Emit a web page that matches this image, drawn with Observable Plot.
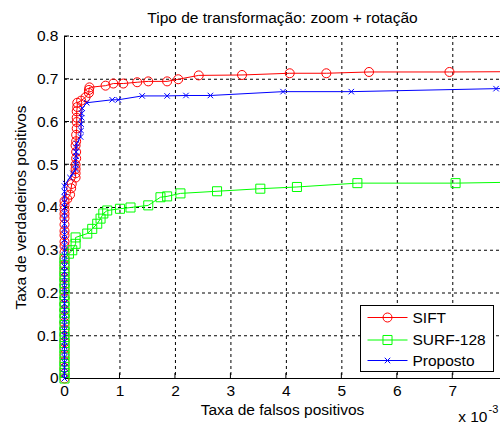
<!DOCTYPE html>
<html><head><meta charset="utf-8">
<script src="https://cdn.jsdelivr.net/npm/d3@7"></script>
<script src="https://cdn.jsdelivr.net/npm/@observablehq/plot@0.6"></script>
<style>body{margin:0;background:#fff}</style>
</head><body><div id="chart"></div>
<script>
const title = "Tipo de transformação: zoom + rotação";
const xLabel = "Taxa de falsos positivos";
const yLabel = "Taxa de verdadeiros positivos";
const xMultiplier = "x 10";
const xExponent = "-3";
const xTicks = [0, 1, 2, 3, 4, 5, 6, 7];
const yTicks = [0, 0.1, 0.2, 0.3, 0.4, 0.5, 0.6, 0.7, 0.8];
const xMax = 7.86;
const seriesNames = ["SIFT", "SURF-128", "Proposto"];
const seriesColors = ["#ff0000", "#00ff00", "#0000ff"];

// SIFT (x in units of 1e-3)
const siftFpr = [0,0,0,0,0,0,0,0,0,0,0,0,0,0,0,0,0,0,0,0,0,0,0,0,0,0,0,0,0,0,0,
  0.05,0.1,0.12,0.13,0.2,0.2,0.2,0.2,0.21,0.21,0.2,0.21,0.21,0.22,0.22,0.22,0.22,0.23,0.23,
  0.3,0.38,0.44,0.44,0.45,0.74,0.88,1.06,1.31,1.51,1.85,2.05,2.42,3.2,4.06,4.72,5.49,6.94,8.5];
const siftTpr = [0,0.012,0.025,0.04,0.055,0.07,0.085,0.1,0.115,0.13,0.145,0.16,0.175,0.19,0.205,0.22,0.235,0.25,0.265,0.28,0.295,0.31,0.32,0.335,0.345,0.36,0.375,0.385,0.395,0.405,0.415,
  0.42,0.43,0.445,0.455,0.47,0.48,0.49,0.5,0.515,0.53,0.545,0.555,0.57,0.585,0.6,0.61,0.625,0.635,0.645,
  0.65,0.658,0.668,0.675,0.681,0.685,0.69,0.69,0.693,0.695,0.695,0.7,0.709,0.71,0.714,0.714,0.717,0.717,0.718];

// SURF-128
const surfFpr = [0,0,0,0,0,0,0,0,0,0,0,0,0,0,0,0,0,0,0,0,0,
  0.08,0.14,0.2,0.2,0.41,0.5,0.59,0.65,0.7,0.77,1.0,1.19,1.51,1.73,1.85,2.09,2.75,3.53,4.19,5.28,7.05,8.5];
const surfTpr = [0,0.013,0.027,0.04,0.055,0.07,0.083,0.097,0.11,0.125,0.14,0.153,0.167,0.18,0.195,0.21,0.223,0.237,0.25,0.265,0.28,
  0.292,0.3,0.315,0.33,0.339,0.35,0.362,0.374,0.386,0.393,0.397,0.4,0.405,0.424,0.426,0.433,0.438,0.444,0.448,0.457,0.457,0.46];

// Proposto
const propFpr = [0,0,0,0,0,0,0,0,0,0,0,0,0,0,0,0,0,0,0,0,0,0,0,0,0,0,0,0,0,0,0,0,0,0,0,0,0,
  0.02,0.1,0.15,0.2,0.2,0.2,0.21,0.21,0.21,0.22,0.29,0.3,0.3,0.31,0.31,0.32,0.4,0.86,0.97,1.4,1.85,2.19,2.63,3.94,5.17,7.78,8.5];
const propTpr = [0,0.012,0.025,0.037,0.05,0.062,0.075,0.087,0.1,0.112,0.125,0.137,0.15,0.162,0.175,0.187,0.2,0.212,0.225,0.237,0.25,0.262,0.275,0.287,0.3,0.312,0.325,0.337,0.35,0.362,0.375,0.387,0.4,0.412,0.425,0.437,0.45,
  0.456,0.47,0.48,0.49,0.5,0.51,0.52,0.53,0.54,0.55,0.565,0.58,0.595,0.61,0.62,0.632,0.645,0.652,0.652,0.661,0.661,0.662,0.662,0.671,0.671,0.678,0.68];

const toRows = (xs, ys) => xs.map((x, i) => ({x, y: ys[i]}));
const sift = toRows(siftFpr, siftTpr);
const surf = toRows(surfFpr, surfTpr);
const prop = toRows(propFpr, propTpr);
const inView = d => d.x <= xMax;

const symbols = ["circle", "square", "times"];
const radii = [4.5, 5.1, 2.6];
const seriesData = [sift, surf, prop];

const FONT = "'Liberation Sans', Arial, sans-serif";

function innerTicks(index, scales, values, dimensions) {
  const sx = typeof scales.x === "function" ? scales.x : scales.scales.x;
  const sy = typeof scales.y === "function" ? scales.y : scales.scales.y;
  const {height, marginBottom, marginLeft} = dimensions;
  const y0 = height - marginBottom;
  const g = d3.create("svg:g").attr("stroke", "black").attr("stroke-width", 1);
  for (const t of xTicks) g.append("line").attr("x1", sx(t)).attr("x2", sx(t)).attr("y1", y0).attr("y2", y0 - 5);
  for (const t of yTicks) g.append("line").attr("x1", marginLeft).attr("x2", marginLeft + 5).attr("y1", sy(t)).attr("y2", sy(t));
  return g.node();
}

function legend(index, scales, values, dimensions) {
  const {width, height, marginRight, marginBottom} = dimensions;
  const bw = 133, bh = 66;
  const x0 = width - marginRight - 6.5 - bw;
  const y0 = height - marginBottom - 6.5 - bh;
  const g = d3.create("svg:g");
  g.append("rect").attr("x", x0).attr("y", y0).attr("width", bw).attr("height", bh)
    .attr("fill", "white").attr("stroke", "black").attr("stroke-width", 1);
  const rowY = [12, 34.5, 55];
  seriesNames.forEach((name, i) => {
    const yy = y0 + rowY[i];
    g.append("line").attr("x1", x0 + 7).attr("x2", x0 + 47).attr("y1", yy).attr("y2", yy)
      .attr("stroke", seriesColors[i]).attr("stroke-width", 1);
    const sym = d3.symbol(i === 0 ? d3.symbolCircle : i === 1 ? d3.symbolSquare : d3.symbolTimes, Math.PI * radii[i] * radii[i]);
    g.append("path").attr("d", sym()).attr("transform", `translate(${x0 + 27},${yy})`)
      .attr("fill", "none").attr("stroke", seriesColors[i]).attr("stroke-width", 1);
    g.append("text").attr("x", x0 + 52).attr("y", yy).attr("dy", "0.35em").attr("text-anchor", "start")
      .attr("font-size", 15.5).attr("font-family", FONT).attr("fill", "black").text(name);
  });
  return g.node();
}

const seriesMarks = seriesData.flatMap((data, i) => [
  Plot.line(data, {x: "x", y: "y", stroke: seriesColors[i], strokeWidth: 1, clip: true}),
  Plot.dot(data.filter(inView), {x: "x", y: "y", symbol: symbols[i], r: radii[i], stroke: seriesColors[i], fill: "none", strokeWidth: 1})
]);

const chart = Plot.plot({
  width: 502,
  height: 426,
  marginLeft: 64,
  marginRight: 2,
  marginTop: 36,
  marginBottom: 48,
  style: {fontFamily: FONT, fontSize: "15.5px", background: "white", color: "black", overflow: "visible"},
  x: {domain: [0, xMax], ticks: xTicks, tickSize: 0, tickPadding: 6, tickFormat: d => String(d), label: null},
  y: {domain: [0, 0.8], ticks: yTicks, tickSize: 0, tickPadding: 6, tickFormat: d => String(d), label: null},
  marks: [
    Plot.ruleX(xTicks.filter(d => d > 0), {stroke: "black", strokeDasharray: "3,3", strokeWidth: 1}),
    Plot.ruleY(yTicks.filter(d => d > 0), {stroke: "black", strokeDasharray: "3,3", strokeWidth: 1}),
    Plot.ruleX([0], {stroke: "black"}),
    Plot.ruleY([0], {stroke: "black"}),
    innerTicks,
    ...seriesMarks,
    legend,
    Plot.text([title], {frameAnchor: "top", dy: -18, lineAnchor: "middle", fontSize: 15.5, fill: "black"}),
    Plot.text([xLabel], {frameAnchor: "bottom", dy: 32, lineAnchor: "middle", fontSize: 15.5, fill: "black"}),
    Plot.text([yLabel], {frameAnchor: "left", dx: -43, rotate: -90, textAnchor: "middle", lineAnchor: "middle", fontSize: 15.5, fill: "black"}),
    Plot.text([xMultiplier], {frameAnchor: "bottom-right", dx: -13, dy: 39, textAnchor: "end", lineAnchor: "middle", fontSize: 15.5, fill: "black"}),
    Plot.text([xExponent], {frameAnchor: "bottom-right", dx: -12, dy: 31, textAnchor: "start", lineAnchor: "middle", fontSize: 11, fill: "black"})
  ]
});
document.getElementById("chart").appendChild(chart);
</script>
</body></html>
